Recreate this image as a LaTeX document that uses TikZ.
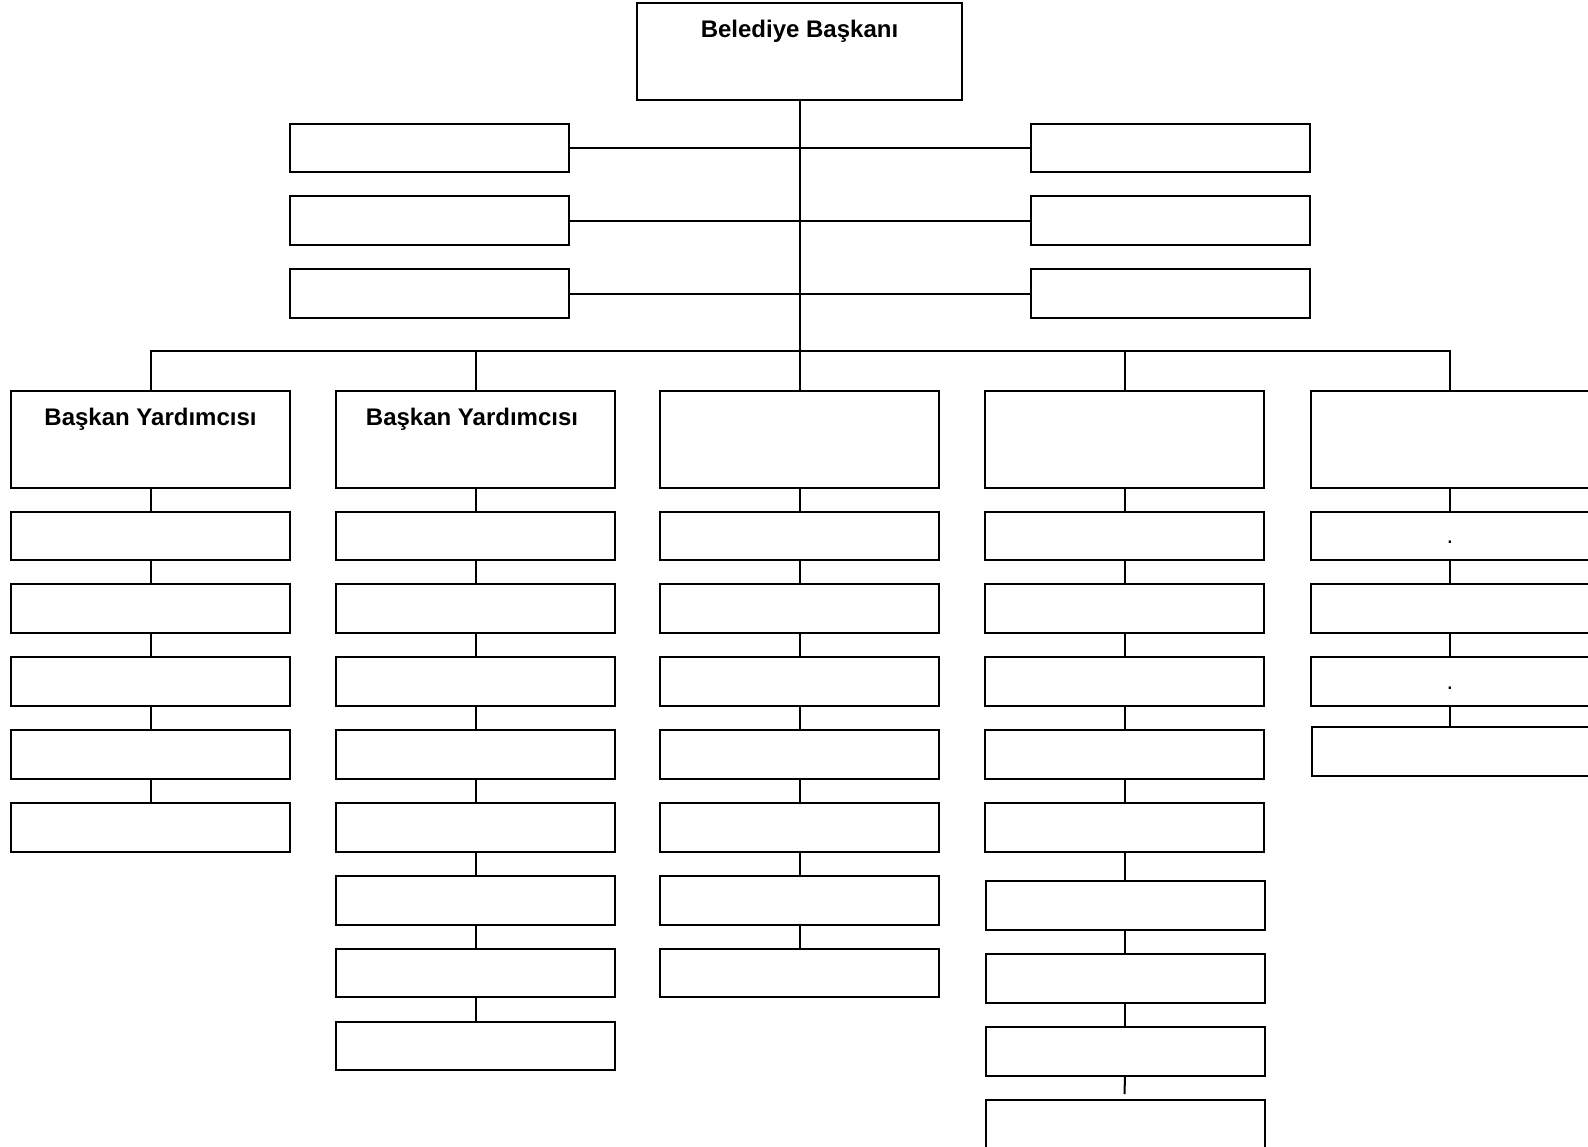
\documentclass[tikz,border=0pt]{standalone}
\usepackage{fontspec}
\setmainfont{Liberation Sans}
\begin{document}
\begin{tikzpicture}[x=0.5pt,y=-0.5pt,
  box/.style={draw, line width=1pt, inner sep=0pt, outer sep=0pt, minimum width=139.5pt, minimum height=24.25pt},
  headbox/.style={draw, line width=1pt, inner sep=0pt, outer sep=0pt, minimum width=139.5pt, minimum height=48.5pt,
    font=\bfseries\fontsize{12}{14}\selectfont, text height=17.1pt, text depth=31.4pt},
  dotbox/.style={box, font=\fontsize{12}{14}\selectfont, text height=8pt, text depth=0pt},
  conn/.style={line width=1pt}]
\useasboundingbox (0,0) rectangle (1588,1146);
% top
\node[headbox, minimum width=162.5pt] (top) at (799.5,51.5) {Belediye Başkanı};
% side boxes
\node[box] (l1) at (429,148) {};
\node[box] (l2) at (429,220.5) {};
\node[box] (l3) at (429,293.5) {};
\node[box] (r1) at (1170.5,148) {};
\node[box] (r2) at (1170.5,220.5) {};
\node[box] (r3) at (1170.5,293.5) {};
\draw[conn] (l1.east) -- (r1.west);
\draw[conn] (l2.east) -- (r2.west);
\draw[conn] (l3.east) -- (r3.west);
% column heads
\node[headbox] (c1h) at (150.5,439.5) {Başkan Yardımcısı};
\node[headbox] (c2h) at (475.5,439.5) {Başkan Yardımcısı\hspace*{3.5pt}};
\node[headbox] (c3h) at (799.5,439.5) {};
\node[headbox] (c4h) at (1124.5,439.5) {};
\node[headbox] (c5h) at (1450,439.5) {};
\coordinate (bus) at (799.5,351);
\draw[conn] (top.south) -- (c3h.north);
\draw[conn] (c1h.north) -- (c1h.north |- bus) -- (c5h.north |- bus) -- (c5h.north);
\draw[conn] (c2h.north) -- (c2h.north |- bus);
\draw[conn] (c4h.north) -- (c4h.north |- bus);
% column sub boxes
\foreach \col/\cx/\n in {1/150.5/5, 2/475.5/8, 3/799.5/7, 4/1124.5/5}{
  \foreach \i in {1,...,\n}{
    \node[box] (c\col s\i) at (\cx,{511.5+72.9*(\i-1)+24.25}) {};
  }
  \draw[conn] (c\col h.south) -- (c\col s1.north);
  \foreach \i [remember=\i as \j (initially 1)] in {2,...,\n}{
    \draw[conn] (c\col s\j.south) -- (c\col s\i.north);
  }
}
% column 4 lower boxes
\node[box] (c4s6) at (1125,905.25) {};
\node[box] (c4s7) at (1125,978.25) {};
\node[box] (c4s8) at (1125,1051.25) {};
\node[box] (c4s9) at (1125,1124.25) {};
\draw[conn] (c4s5.south) -- (c4s6.north -| c4s5.south);
\draw[conn] (c4s6.south) -- (c4s7.north);
\draw[conn] (c4s7.south) -- (c4s8.north);
\coordinate (c4end) at (1124.5,1094);
\draw[conn] (c4s8.south) -- (c4end);
% column 5
\node[dotbox] (c5s1) at (1450,535.75) {.};
\node[box] (c5s2) at (1450,608.65) {};
\node[dotbox] (c5s3) at (1450,681.55) {.};
\node[box] (c5s4) at (1451,751.25) {};
\draw[conn] (c5h.south) -- (c5s1.north);
\draw[conn] (c5s1.south) -- (c5s2.north);
\draw[conn] (c5s2.south) -- (c5s3.north);
\draw[conn] (c5s3.south) -- (c5s4.north -| c5s3.south);
\end{tikzpicture}
\end{document}
